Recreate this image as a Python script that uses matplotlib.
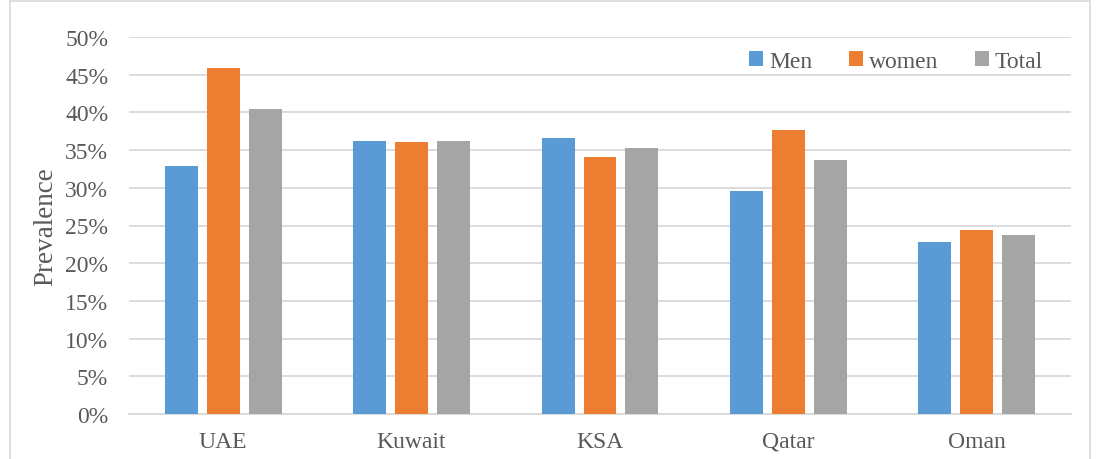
import numpy as np
import matplotlib.pyplot as plt
from matplotlib.patches import Rectangle
from matplotlib.ticker import FuncFormatter

countries = ["UAE", "Kuwait", "KSA", "Qatar", "Oman"]
men = [32.9, 36.2, 36.6, 29.6, 22.8]
women = [45.9, 36.1, 34.1, 37.7, 24.4]
total = [40.5, 36.2, 35.3, 33.7, 23.7]

plt.rcParams['font.family'] = ['Liberation Serif', 'DejaVu Serif']

fig = plt.figure(figsize=(10.97, 4.60), dpi=100)
ax = fig.add_axes([129 / 1097, 1 - 415 / 460, (1071 - 129) / 1097, (415 - 38) / 460])

x = np.arange(len(countries))
w = 0.175
step = 0.222
colors = ["#5b9bd5", "#ed7d31", "#a5a5a5"]
for i, (vals, name) in enumerate([(men, "Men"), (women, "women"), (total, "Total")]):
    ax.bar(x + (i - 1) * step, vals, w, color=colors[i], label=name, zorder=3)

ax.set_xlim(-0.5, len(countries) - 0.5)
ax.set_ylim(0, 50)
ax.set_yticks(np.arange(0, 51, 5))
ax.yaxis.set_major_formatter(FuncFormatter(lambda v, p: f"{v:.0f}%"))
ax.set_xticks(x)
ax.set_xticklabels(countries)
ax.grid(axis='y', color='#d9d9d9', lw=1.3, zorder=0)
for s in ['top', 'right', 'left']:
    ax.spines[s].set_visible(False)
ax.spines['bottom'].set_color('#d9d9d9')
ax.spines['bottom'].set_linewidth(1.3)
ax.tick_params(axis='both', length=0, labelsize=17, labelcolor='#595959')
ax.tick_params(axis='x', pad=12)
ax.tick_params(axis='y', pad=15)
ax.set_ylabel("Prevalence", fontsize=19.5, color='#595959', labelpad=5)

ax.legend(loc='upper right', bbox_to_anchor=(0.993, 1.02), ncol=3, frameon=False,
          fontsize=17, handlelength=0.6, handleheight=0.6, handletextpad=0.25,
          columnspacing=1.55, labelcolor='#595959')

fig.patches.append(Rectangle((10 / 1097, -0.05), (1090 - 10) / 1097, 1.05 - 2 / 460,
                             transform=fig.transFigure, fill=False,
                             edgecolor='#d9d9d9', lw=1.2))

fig.savefig("out.png", dpi=100)
